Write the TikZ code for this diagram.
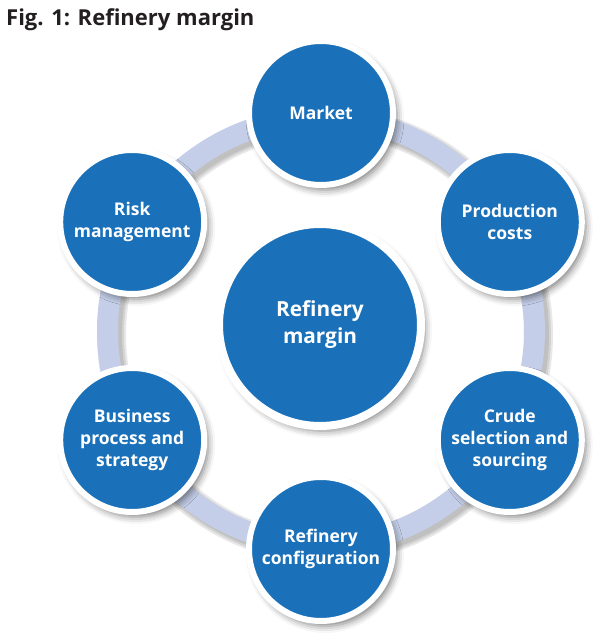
\documentclass[tikz,border=0pt]{standalone}
\usepackage{fontspec}
\setsansfont{Open Sans}
\usepackage{tikz}
\usetikzlibrary{shadows.blur}

\definecolor{discblue}{RGB}{27,113,185}
\definecolor{ringblue}{RGB}{196,206,232}
\definecolor{titlegray}{RGB}{35,31,32}

\begin{document}
\begin{tikzpicture}[x=1pt,y=1pt,
                    main node/.style={circle, fill=discblue, draw=white, line width=6pt,
                      minimum size=144pt, inner sep=0pt, align=center, text=white,
                      font=\sffamily\bfseries\fontsize{17.5}{22}\selectfont,
                      blur shadow={shadow xshift=4pt, shadow yshift=-5pt,
                        shadow blur radius=7pt, shadow opacity=50}},
                    hub node/.style={main node, line width=8pt, minimum size=202pt,
                      font=\sffamily\bfseries\fontsize{20.8}{27}\selectfont}]
  \useasboundingbox (0,0) rectangle (605,640);

  %Title%
  \node[anchor=base west, inner sep=0pt, text=titlegray,
        font=\sffamily\bfseries\fontsize{22}{26}\selectfont] (title) at (6,614)
        {Fig. 1: Refinery margin};

  %Ring%
  \coordinate (hub) at (321,309);
  \foreach \w in {29,25,21}
    \draw[line width=\w pt, black, opacity=0.09] ([shift={(4,-4)}]hub) circle (213.5);
  \draw[line width=21pt, ringblue] (hub) circle (213.5);

  %Discs%
  \node[hub node] (margin) at (320,315) {Refinery\\margin};
  \node[main node] (market)   at ([shift={(90:218)}]hub)  {Market};
  \node[main node] (costs)    at ([shift={(30:218)}]hub)  {Production\\costs};
  \node[main node] (crude)    at ([shift={(-30:218)}]hub) {Crude\\selection and\\sourcing};
  \node[main node] (config)   at ([shift={(-90:218)}]hub) {Refinery\\configuration};
  \node[main node] (business) at ([shift={(210:218)}]hub) {Business\\process and\\strategy};
  \node[main node] (risk)     at ([shift={(150:218)}]hub) {Risk\\management};
\end{tikzpicture}
\end{document}
